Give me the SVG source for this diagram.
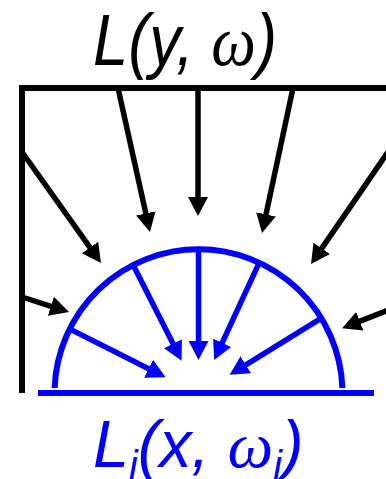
<svg xmlns="http://www.w3.org/2000/svg" width="386" height="479" viewBox="0 0 386 479">
<style>
.blk{stroke:#000;stroke-width:5.5;fill:none;marker-end:url(#ak)}
.blu{stroke:#0000FF;stroke-width:5.5;fill:none;marker-end:url(#ab)}
.lbl{font-family:"Liberation Sans",Arial,sans-serif;font-style:italic}
.om{font-family:"Liberation Serif","Times New Roman",serif;font-style:italic}
</style>
<defs>
<marker id="ak" markerUnits="userSpaceOnUse" markerWidth="22" markerHeight="22" viewBox="0 -11 22 22" refX="10" refY="0" orient="auto"><path d="M0,-10 L19,0 L0,10 Z" fill="#000"/></marker>
<marker id="ab" markerUnits="userSpaceOnUse" markerWidth="22" markerHeight="22" viewBox="0 -11 22 22" refX="10" refY="0" orient="auto"><path d="M0,-10 L19,0 L0,10 Z" fill="#0000FF"/></marker>
</defs>
<g id="frame">
<path d="M22,393 V88 H386" stroke="#000" stroke-width="6" fill="none"/>
</g>
<g id="surface">
<path d="M54.6,388 A144,144 0 0 1 342.4,388" stroke="#0000FF" stroke-width="6" fill="none"/>
<line x1="38" y1="393" x2="374" y2="393" stroke="#0000FF" stroke-width="6"/>
</g>
<g id="connectors">
<line class="blk" x1="22" y1="152" x2="95.8" y2="255.7"/>
<line class="blk" x1="118" y1="88" x2="148" y2="223.2"/>
<line class="blk" x1="198" y1="88" x2="198" y2="207"/>
<line class="blk" x1="293" y1="88" x2="263.9" y2="224.2"/>
<line class="blk" x1="390" y1="149" x2="316.1" y2="256.6"/>
<line class="blk" x1="22" y1="297" x2="60.4" y2="309.3"/>
<line class="blk" x1="390" y1="309.5" x2="350.5" y2="324.9"/>
<line class="blu" x1="70" y1="329.1" x2="157.5" y2="373.3"/>
<line class="blu" x1="133.4" y1="265.6" x2="177.5" y2="352.6"/>
<line class="blu" x1="198.5" y1="250" x2="198.5" y2="351"/>
<line class="blu" x1="258.9" y1="263.3" x2="218" y2="351.8"/>
<line class="blu" x1="321" y1="318.3" x2="237.3" y2="370.1"/>
</g>
<g id="label-top">
<text class="lbl" x="93" y="65" font-size="72" textLength="184" lengthAdjust="spacingAndGlyphs" fill="#000">L(y, <tspan class="om">ω</tspan>)</text>
</g>
<g id="label-bottom">
<text class="lbl" transform="translate(93,467) scale(0.98,1)" font-size="66" fill="#0000FF">L<tspan font-size="40" dy="12">i</tspan><tspan dy="-12">(x, </tspan><tspan class="om">ω</tspan><tspan font-size="40" dy="12">i</tspan><tspan dy="-12">)</tspan></text>
</g>
</svg>
